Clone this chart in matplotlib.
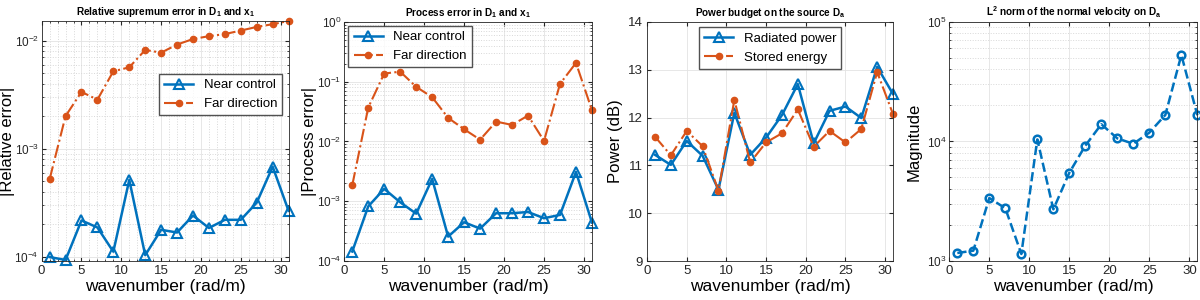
import matplotlib as mpl
mpl.use('Agg')
import matplotlib.pyplot as plt
from matplotlib.ticker import MultipleLocator, LogLocator, NullFormatter

# wavenumbers (rad/m)
k = [1, 3, 5, 7, 9, 11, 13, 15, 17, 19, 21, 23, 25, 27, 29, 31]

# panel 1: relative supremum error
sup_near = [9.9e-5, 9.3e-5, 2.16e-4, 1.86e-4, 1.11e-4, 5.13e-4, 1.03e-4, 1.77e-4,
            1.67e-4, 2.4e-4, 1.84e-4, 2.19e-4, 2.19e-4, 3.16e-4, 6.8e-4, 2.65e-4]
sup_far = [5.2e-4, 2.0e-3, 3.35e-3, 2.84e-3, 5.2e-3, 5.66e-3, 8.2e-3, 7.74e-3,
           9.2e-3, 1.035e-2, 1.10e-2, 1.15e-2, 1.24e-2, 1.34e-2, 1.42e-2, 1.52e-2]

# panel 2: process error
proc_near = [1.44e-4, 8.2e-4, 1.61e-3, 9.6e-4, 6.2e-4, 2.36e-3, 2.56e-4, 4.45e-4,
             3.48e-4, 6.3e-4, 6.3e-4, 6.6e-4, 5.2e-4, 5.9e-4, 3.09e-3, 4.4e-4]
proc_far = [1.85e-3, 3.69e-2, 0.137, 0.147, 8.2e-2, 5.5e-2, 2.48e-2, 1.6e-2,
            1.07e-2, 2.15e-2, 1.89e-2, 2.71e-2, 1.02e-2, 9.2e-2, 0.206, 3.33e-2]

# panel 3: power budget (dB)
radiated = [11.22, 11.01, 11.51, 11.20, 10.49, 12.10, 11.22, 11.58,
            12.05, 12.70, 11.46, 12.14, 12.23, 11.99, 13.06, 12.49]
stored = [11.60, 11.21, 11.72, 11.40, 10.47, 12.37, 11.06, 11.48,
          11.67, 12.17, 11.39, 11.72, 11.48, 11.76, 12.95, 12.07]

# panel 4: L2 norm of normal velocity
vel_norm = [1167, 1220, 3365, 2760, 1145, 10400, 2705, 5480,
            9230, 13930, 10600, 9560, 11860, 16670, 52900, 16560]

blue = '#0072BD'
orange = '#D95319'

plt.rcParams['font.family'] = ['Liberation Sans', 'DejaVu Sans']
plt.rcParams['mathtext.fontset'] = 'custom'
plt.rcParams['mathtext.rm'] = 'Liberation Sans'
plt.rcParams['mathtext.bf'] = 'Liberation Sans:bold'

dpi = 100
fig = plt.figure(dpi=dpi, figsize=(1200 / dpi, 300 / dpi))

boxes = [[0.0347, 0.13, 0.2058, 0.80],
         [0.2869, 0.13, 0.2064, 0.797],
         [0.5392, 0.13, 0.2050, 0.797],
         [0.7911, 0.13, 0.2067, 0.797]]
axes = [fig.add_axes(b) for b in boxes]
ylabel_x = [-0.108, -0.112, -0.098, -0.11]


def style(ax, logy, minor_x=False):
    ax.set_xlim(0, 31)
    ax.xaxis.set_major_locator(MultipleLocator(5))
    ax.tick_params(direction='in', which='both', labelsize=9.5, colors='#262626',
                   top=True, right=True, length=3, pad=3)
    ax.tick_params(which='minor', length=1.5)
    for s in ax.spines.values():
        s.set_color('#262626')
        s.set_linewidth(0.6)
    ax.grid(True, which='major', color='#e3e3e3', linewidth=0.6)
    if logy:
        ax.set_yscale('log')
        ax.yaxis.set_minor_locator(LogLocator(base=10, subs=range(2, 10)))
        ax.yaxis.set_minor_formatter(NullFormatter())
        ax.tick_params(axis='y', labelsize=8.5, pad=2)
        ax.grid(True, which='minor', axis='y', color='#d8d8d8', linestyle=':', linewidth=0.7)
    if minor_x:
        ax.xaxis.set_minor_locator(MultipleLocator(1))
        ax.grid(True, which='minor', axis='x', color='#d8d8d8', linestyle=':', linewidth=0.7)
    ax.set_axisbelow(True)
    ax.set_xlabel('wavenumber (rad/m)', fontsize=12.5, labelpad=1)


tri = dict(color=blue, lw=1.8, marker='^', ms=7, mfc='none', mew=1.5, clip_on=False)
dot = dict(color=orange, lw=1.5, ls='-.', marker='o', ms=4.5, clip_on=False)
leg = dict(fontsize=9.5, fancybox=False, edgecolor='#262626', handlelength=2.2)

ax = axes[0]
ax.plot(k, sup_near, label='Near control', **tri)
ax.plot(k, sup_far, label='Far direction', **dot)
style(ax, True, minor_x=True)
ax.set_ylim(9.1e-5, 1.52e-2)
ax.set_ylabel('|Relative error|', fontsize=12)
ax.set_title(r'Relative supremum error in $\mathbf{D_1}$ and $\mathbf{x_1}$',
             fontsize=7.2, fontweight='bold', pad=4)
ax.legend(loc='upper right', bbox_to_anchor=(0.975, 0.78), borderaxespad=0, **leg)

ax = axes[1]
ax.plot(k, proc_near, label='Near control', **tri)
ax.plot(k, proc_far, label='Far direction', **dot)
style(ax, True)
ax.set_ylim(1e-4, 1)
ax.set_ylabel('|Process error|', fontsize=12)
ax.set_title(r'Process error in $\mathbf{D_1}$ and $\mathbf{x_1}$',
             fontsize=7.2, fontweight='bold', pad=4)
ax.legend(loc='upper left', borderaxespad=0.3, **leg)

ax = axes[2]
ax.plot(k, radiated, label='Radiated power', **tri)
ax.plot(k, stored, label='Stored energy', **dot)
style(ax, False)
ax.set_ylim(9, 14)
ax.yaxis.set_major_locator(MultipleLocator(1))
ax.set_ylabel('Power (dB)', fontsize=12)
ax.set_title(r'Power budget on the source $\mathbf{D_a}$',
             fontsize=7.2, fontweight='bold', pad=4)
ax.legend(loc='upper center', borderaxespad=0.4, **leg)

ax = axes[3]
ax.plot(k, vel_norm, color=blue, lw=1.8, ls='--', marker='o', ms=5.5,
        mfc='none', mew=1.8, clip_on=False)
style(ax, True)
ax.set_ylim(1e3, 1e5)
ax.set_ylabel('Magnitude', fontsize=12)
ax.set_title(r'$\mathbf{L^2}$ norm of the normal velocity on $\mathbf{D_a}$',
             fontsize=7.2, fontweight='bold', pad=4)

for a, lx in zip(axes, ylabel_x):
    a.yaxis.set_label_coords(lx, 0.5)

fig.savefig('out.png', dpi=dpi)
